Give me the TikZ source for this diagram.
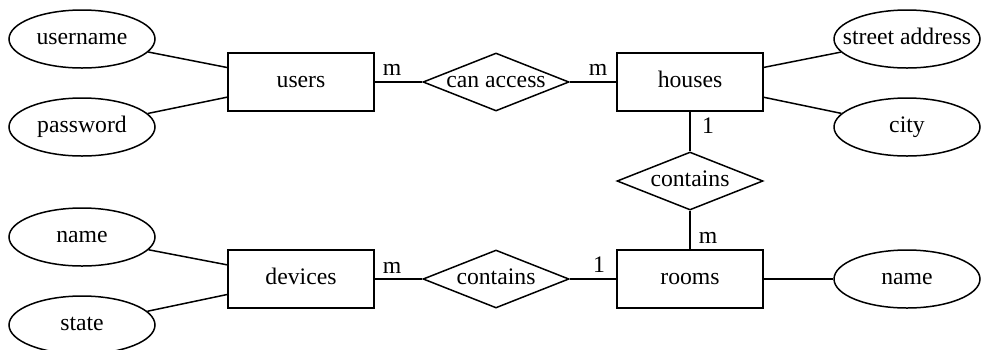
\documentclass[tikz,border=0pt]{standalone}
\usepackage{fontspec}
\setmainfont{Liberation Serif}
\usetikzlibrary{shapes.geometric}
\begin{document}
\begin{tikzpicture}[x=1pt,y=-1pt,
  every node/.style={font=\fontsize{23.7}{28}\selectfont, text height=16pt, text depth=6pt, inner sep=0pt},
  ent/.style={draw, line width=1.5pt, rectangle, minimum width=146pt, minimum height=58pt},
  attr/.style={draw, line width=1.5pt, ellipse, minimum width=146pt, minimum height=58pt},
  rel/.style={draw, line width=1.5pt, diamond, minimum width=146pt, minimum height=58pt},
  card/.style={anchor=base, text height=, text depth=},
  conn/.style={line width=1.5pt}]
\useasboundingbox (0,0) rectangle (981,349);
% entities
\node[ent] (users) at (301,82) {\makebox[0pt]{users}};
\node[ent] (houses) at (690,82) {\makebox[0pt]{houses}};
\node[ent] (devices) at (301,279) {\makebox[0pt]{devices}};
\node[ent] (rooms) at (690,279) {\makebox[0pt]{rooms}};
% relationships
\node[rel] (canaccess) at (496,82) {\makebox[0pt]{can access}};
\node[rel] (containsA) at (690,181) {\makebox[0pt]{contains}};
\node[rel] (containsB) at (496,279) {\makebox[0pt]{contains}};
% attributes
\node[attr] (username) at (82,39) {\makebox[0pt]{username}};
\node[attr] (password) at (82,127) {\makebox[0pt]{password}};
\node[attr] (street) at (907,39) {\makebox[0pt]{street address}};
\node[attr] (city) at (907,127) {\makebox[0pt]{city}};
\node[attr] (dname) at (82,237) {\makebox[0pt]{name}};
\node[attr] (state) at (82,325) {\makebox[0pt]{state}};
\node[attr] (rname) at (907,279) {\makebox[0pt]{name}};
% connectors
\draw[conn] (username) -- (users);
\draw[conn] (password) -- (users);
\draw[conn] (users) -- (canaccess);
\draw[conn] (canaccess) -- (houses);
\draw[conn] (houses) -- (street);
\draw[conn] (houses) -- (city);
\draw[conn] (houses) -- (containsA);
\draw[conn] (containsA) -- (rooms);
\draw[conn] (dname) -- (devices);
\draw[conn] (state) -- (devices);
\draw[conn] (devices) -- (containsB);
\draw[conn] (containsB) -- (rooms);
\draw[conn] (rooms) -- (rname);
% cardinalities
\node[card] (c1) at (392,75) {m};
\node[card] (c2) at (598,75) {m};
\node[card] (c3) at (708,133) {1};
\node[card] (c4) at (708,243) {m};
\node[card] (c5) at (392,273) {m};
\node[card] (c6) at (599,272) {1};
\end{tikzpicture}
\end{document}
